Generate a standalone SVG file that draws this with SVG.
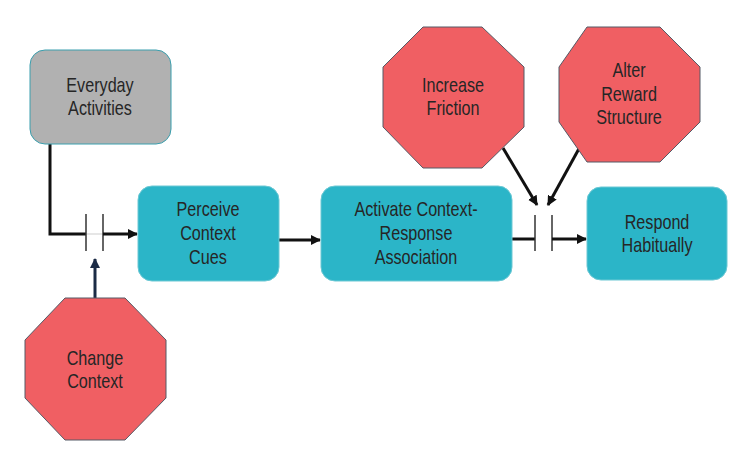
<svg xmlns="http://www.w3.org/2000/svg" width="752" height="458" viewBox="0 0 752 458">
<defs>
<style>
.t{font-family:"Liberation Sans",Arial,sans-serif;font-size:19.5px;fill:#262626;text-anchor:middle}
.box{fill:#2bb5c8;stroke:#6cc8d4;stroke-width:1}
.grey{fill:#b1b1b1;stroke:#3a9fae;stroke-width:1}
.oct{fill:#f05f63;stroke:#555a66;stroke-width:1}
.ln{fill:none;stroke:#111;stroke-width:3}
.bar{fill:none;stroke:#333;stroke-width:1.5}
</style>
<marker id="ah" viewBox="0 0 10 10" refX="9" refY="5" markerWidth="10" markerHeight="10" markerUnits="userSpaceOnUse" orient="auto">
<path d="M0,0 L10,5 L0,10 z" fill="#111"/>
</marker>
<marker id="ahn" viewBox="0 0 10 10" refX="9" refY="5" markerWidth="10" markerHeight="10" markerUnits="userSpaceOnUse" orient="auto">
<path d="M0,0 L10,5 L0,10 z" fill="#1b2b45"/>
</marker>
</defs>
<rect width="752" height="458" fill="#fff"/>
<g id="connectors">
<path class="ln" d="M50,144 V234 H86"/>
<line x1="86" y1="234" x2="103" y2="234" stroke="#e6e6e6" stroke-width="2"/>
<line class="bar" x1="86" y1="214" x2="86" y2="251"/>
<line class="bar" x1="103" y1="214" x2="103" y2="251"/>
<line class="ln" x1="103" y1="234" x2="137" y2="234" marker-end="url(#ah)"/>
<line x1="95" y1="298" x2="95" y2="259" stroke="#1b2b45" stroke-width="3" marker-end="url(#ahn)"/>
<line class="ln" x1="279" y1="240" x2="320" y2="240" marker-end="url(#ah)"/>
<line class="ln" x1="512" y1="239" x2="535" y2="239"/>
<line class="bar" x1="535" y1="215" x2="535" y2="251"/>
<line class="bar" x1="552" y1="215" x2="552" y2="251"/>
<line class="ln" x1="552" y1="239" x2="586" y2="239" marker-end="url(#ah)"/>
<line class="ln" x1="503" y1="148" x2="537" y2="205" marker-end="url(#ah)"/>
<line class="ln" x1="581" y1="145" x2="548" y2="205" marker-end="url(#ah)"/>
</g>
<g id="everyday">
<rect class="grey" x="30" y="50" width="141" height="94" rx="15"/>
<text class="t" transform="matrix(0.83,0,0,1,100,92)">Everyday</text>
<text class="t" transform="matrix(0.83,0,0,1,100,115)">Activities</text>
</g>
<g id="perceive">
<rect class="box" x="138" y="186" width="141" height="95" rx="14"/>
<text class="t" transform="matrix(0.83,0,0,1,208,216)">Perceive</text>
<text class="t" transform="matrix(0.83,0,0,1,208,240)">Context</text>
<text class="t" transform="matrix(0.83,0,0,1,208,264)">Cues</text>
</g>
<g id="activate">
<rect class="box" x="321" y="186" width="191" height="95" rx="14"/>
<text class="t" transform="matrix(0.83,0,0,1,416,216)">Activate Context-</text>
<text class="t" transform="matrix(0.83,0,0,1,416,240)">Response</text>
<text class="t" transform="matrix(0.83,0,0,1,416,264)">Association</text>
</g>
<g id="respond">
<rect class="box" x="587" y="187" width="140" height="93" rx="14"/>
<text class="t" transform="matrix(0.83,0,0,1,657,229)">Respond</text>
<text class="t" transform="matrix(0.83,0,0,1,657,252)">Habitually</text>
</g>
<g id="change">
<polygon class="oct" points="65,298 125,298 166,340 166,398 125,440 65,440 25,398 25,340"/>
<text class="t" transform="matrix(0.83,0,0,1,95,365)">Change</text>
<text class="t" transform="matrix(0.83,0,0,1,95,388)">Context</text>
</g>
<g id="friction">
<polygon class="oct" points="423,27 482,27 524,67 524,127 482,168 423,168 383,127 383,67"/>
<text class="t" transform="matrix(0.83,0,0,1,453,92)">Increase</text>
<text class="t" transform="matrix(0.83,0,0,1,453,115)">Friction</text>
</g>
<g id="reward">
<polygon class="oct" points="587,27 660,27 700,67 700,122 660,162 587,162 559,122 559,67"/>
<text class="t" transform="matrix(0.83,0,0,1,629,77)">Alter</text>
<text class="t" transform="matrix(0.83,0,0,1,629,101)">Reward</text>
<text class="t" transform="matrix(0.83,0,0,1,629,124)">Structure</text>
</g>
</svg>
